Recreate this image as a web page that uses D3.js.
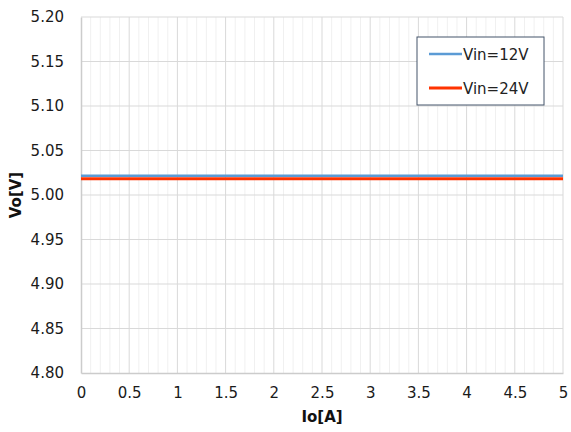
<!DOCTYPE html>
<html>
<head>
<meta charset="utf-8">
<script src="https://cdn.jsdelivr.net/npm/d3@7"></script>
<style>
  body { margin: 0; background: #fff; }
  text { font-family: "DejaVu Sans", Verdana, sans-serif; }
</style>
</head>
<body>
<svg id="chart" width="571" height="432"></svg>
<script>
// load current, A
const current = [0, 0.5, 1, 1.5, 2, 2.5, 3, 3.5, 4, 4.5, 5];
// output voltage, V
const vin12 = [5.0215, 5.0215, 5.0216, 5.0216, 5.0217, 5.0217, 5.0217, 5.0216, 5.0216, 5.0216, 5.0216];
const vin24 = [5.0182, 5.0182, 5.0183, 5.0183, 5.0183, 5.0183, 5.0183, 5.0182, 5.0182, 5.0182, 5.0182];
const seriesNames = ["Vin=12V", "Vin=24V"];
const seriesColors = ["#5B9BD5", "#FF3300"];
const xTicks = [0, 0.5, 1, 1.5, 2, 2.5, 3, 3.5, 4, 4.5, 5];
const yTicks = [4.80, 4.85, 4.90, 4.95, 5.00, 5.05, 5.10, 5.15, 5.20];

const svg = d3.select("#chart");
const margin = {left: 81, right: 8, top: 17, bottom: 59};
const width = 571 - margin.left - margin.right,
    height = 432 - margin.top - margin.bottom;

const x = d3.scaleLinear().domain([0, 5]).range([margin.left, margin.left + width]);
const y = d3.scaleLinear().domain([4.80, 5.20]).range([margin.top + height, margin.top]);

const grid = svg.append("g");

// minor verticals every 0.1
grid.selectAll("line.minor")
    .data(d3.range(0, 51).map(d => d / 10).filter((d, i) => i % 5 !== 0))
    .enter().append("line")
    .attr("x1", d => x(d)).attr("x2", d => x(d))
    .attr("y1", y(4.80)).attr("y2", y(5.20))
    .attr("stroke", "#f0f0f0").attr("stroke-width", 1);

grid.selectAll("line.vmajor")
    .data(xTicks.slice(1))
    .enter().append("line")
    .attr("x1", d => x(d)).attr("x2", d => x(d))
    .attr("y1", y(4.80)).attr("y2", y(5.20))
    .attr("stroke", "#d9d9d9").attr("stroke-width", 1);

grid.selectAll("line.hmajor")
    .data(yTicks.slice(1))
    .enter().append("line")
    .attr("x1", x(0)).attr("x2", x(5))
    .attr("y1", d => y(d)).attr("y2", d => y(d))
    .attr("stroke", "#d9d9d9").attr("stroke-width", 1);

// axes
const xAxis = svg.append("g")
    .attr("transform", "translate(0," + y(4.80) + ")")
    .call(d3.axisBottom(x).tickValues(xTicks).tickSize(0).tickPadding(14).tickFormat(d3.format("")));
const yAxis = svg.append("g")
    .attr("transform", "translate(" + x(0) + ",0)")
    .call(d3.axisLeft(y).tickValues(yTicks).tickSize(0).tickPadding(17).tickFormat(d3.format(".2f")));

[xAxis, yAxis].forEach(a => {
    a.select(".domain").attr("stroke", "#cccccc").attr("stroke-width", 1.5);
    a.selectAll("text").attr("font-size", 15).attr("fill", "#1a1a1a")
        .attr("font-family", "DejaVu Sans, Verdana, sans-serif");
});

// data lines
const line = d3.line().x((d, i) => x(current[i])).y(d => y(d));
[vin12, vin24].forEach((s, k) => {
    svg.append("path")
        .datum(s)
        .attr("d", line)
        .attr("fill", "none")
        .attr("stroke", seriesColors[k])
        .attr("stroke-width", k === 0 ? 2.5 : 3);
});

// axis titles
svg.append("text")
    .attr("x", x(2.5)).attr("y", 422)
    .attr("text-anchor", "middle")
    .attr("font-size", 15).attr("font-weight", "bold").attr("fill", "#111")
    .text("Io[A]");

svg.append("text")
    .attr("transform", "translate(21," + y(5.0) + ") rotate(-90)")
    .attr("text-anchor", "middle")
    .attr("font-size", 15).attr("font-weight", "bold").attr("fill", "#111")
    .text("Vo[V]");

// legend
const legend = svg.append("g").attr("transform", "translate(417,37)");
legend.append("rect")
    .attr("width", 127).attr("height", 68)
    .attr("fill", "#fff").attr("stroke", "#44546A").attr("stroke-width", 1);
seriesNames.forEach((name, k) => {
    const ly = 17 + k * 34;
    legend.append("line")
        .attr("x1", 12).attr("x2", 45).attr("y1", ly).attr("y2", ly)
        .attr("stroke", seriesColors[k]).attr("stroke-width", k === 0 ? 2.5 : 3);
    legend.append("text")
        .attr("x", 46).attr("y", ly + 5.5)
        .attr("font-size", 15).attr("fill", "#222")
        .text(name);
});
</script>
</body>
</html>
